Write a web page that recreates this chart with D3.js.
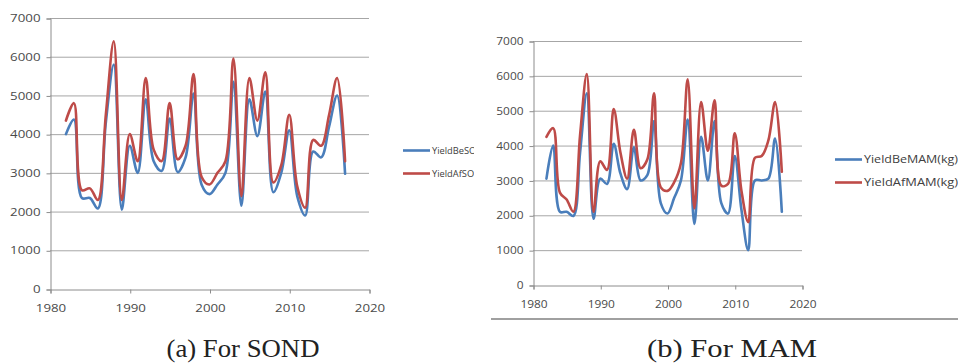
<!DOCTYPE html>
<html><head><meta charset="utf-8">
<script src="https://cdn.jsdelivr.net/npm/d3@7"></script>
<style>html,body{margin:0;padding:0;background:#fff;}svg{display:block;}</style>
</head><body>
<svg id="chart" width="958" height="363"></svg>
<script>
const years = d3.range(1982, 2018);
const yearTicks = [1980, 1990, 2000, 2010, 2020];
const valueTicks = [0, 1000, 2000, 3000, 4000, 5000, 6000, 7000];

const yieldBeSOND = [4000,4380,2350,2350,2080,4300,5800,2050,3700,3000,4900,3300,3050,4400,3020,3400,5050,2700,2450,2700,3000,5350,2150,4900,3950,5100,2500,3000,4100,2400,1900,3550,3400,4200,5000,2980];
const yieldAfSOND = [4350,4800,2550,2600,2300,4500,6400,2300,4000,3300,5450,3600,3300,4800,3350,3700,5550,2900,2700,3000,3300,5950,2400,5450,4350,5600,2750,3200,4500,2650,2100,3850,3700,4500,5450,3300];

const yieldBeMAM = [3050,4000,2100,2100,1980,3800,5500,1900,3050,2900,4050,3200,2750,3950,3000,3150,4700,2350,2050,2500,3000,4750,1750,4250,3000,4700,2350,2050,3700,2150,1000,3000,3000,3050,4200,2100];
const yieldAfMAM = [4250,4500,2650,2450,2100,4300,6050,2100,3550,3300,5050,3800,3050,4450,3350,3600,5500,2800,2700,2950,3500,5900,2200,5250,3850,5300,2850,2900,4350,2700,1800,3650,3700,4150,5250,3250];

const seriesNames = {
  sond: ["YieldBeSOND(kg)", "YieldAfSOND(kg)"],
  mam: ["YieldBeMAM(kg)", "YieldAfMAM(kg)"]
};
const captions = ["(a) For SOND", "(b) For MAM"];
const colors = ["#4a7ebb", "#be4b48"];

const svg = d3.select("#chart");
const defs = svg.append("defs");
defs.append("clipPath").attr("id","legclipA").append("rect")
  .attr("x",395).attr("y",130).attr("width",79).attr("height",60);

// frame line under right panel
svg.append("line").attr("x1",491).attr("x2",958).attr("y1",319).attr("y2",319)
  .attr("stroke","#a0a0a0").attr("stroke-width",2);

function panel(cfg){
  const x = d3.scaleLinear().domain([1980,2020]).range([cfg.x0, cfg.x1]);
  const y = d3.scaleLinear().domain([0,7000]).range([cfg.y0, cfg.y1]);
  const g = svg.append("g");
  // gridlines
  g.selectAll(".grid").data(valueTicks.slice(1)).join("line")
    .attr("x1",cfg.x0).attr("x2",cfg.x1)
    .attr("y1",d=>y(d)+0.5).attr("y2",d=>y(d)+0.5)
    .attr("stroke","#a6a6a6").attr("stroke-width",1);
  // y axis
  const ya = g.append("g").attr("transform",`translate(${cfg.x0+0.5},0.5)`)
    .call(d3.axisLeft(y).tickValues(valueTicks).tickFormat(d3.format("d")).tickSize(4).tickPadding(6));
  // x axis
  const xa = g.append("g").attr("transform",`translate(0.5,${cfg.y0+0.5})`)
    .call(d3.axisBottom(x).tickValues(yearTicks).tickFormat(d3.format("d")).tickSize(4).tickPadding(11));
  [ya, xa].forEach(a=>{
    a.select(".domain").attr("stroke","#8c8c8c");
    a.selectAll(".tick line").attr("stroke","#8c8c8c");
    a.selectAll(".tick text").attr("fill","#4a4a4a")
      .style("font-family","'Open Sans', sans-serif").style("font-size","10px")
      .attr("lengthAdjust","spacingAndGlyphs")
      .attr("textLength", d=> String(d).length*cfg.digitW);
  });
  xa.selectAll(".tick text").attr("dy","0.71em");
  // lines
  const line = d3.line().x((d,i)=>x(years[i])).y(d=>y(d)).curve(cfg.curve);
  [cfg.be, cfg.af].forEach((s,k)=>{
    g.append("path").datum(s).attr("d",line).attr("fill","none")
      .attr("stroke",colors[k]).attr("stroke-width",2.6)
      .attr("stroke-linejoin","round").attr("stroke-linecap","round");
  });
  // legend
  const lg = g.append("g");
  if (cfg.clip) lg.attr("clip-path",`url(#${cfg.clip})`);
  cfg.names.forEach((n,k)=>{
    const ly = cfg.legY[k];
    lg.append("line").attr("x1",cfg.legX).attr("x2",cfg.legX+27).attr("y1",ly).attr("y2",ly)
      .attr("stroke",colors[k]).attr("stroke-width",2.6);
    const t = lg.append("text").attr("x",cfg.legX+29).attr("y",ly).attr("dy","0.35em")
      .attr("fill","#404040").style("font-family","'Open Sans', sans-serif")
      .style("font-size",cfg.legFont+"px")
      .text(n);
    if (cfg.legW) t.attr("textLength", cfg.legW[k]).attr("lengthAdjust","spacingAndGlyphs");
  });
  // caption
  svg.append("text").attr("x",cfg.capX).attr("y",356.5).attr("text-anchor","middle")
    .style("font-family","'Liberation Serif', serif").style("font-size","25px")
    .attr("fill","#222").attr("textLength",cfg.capW).attr("lengthAdjust","spacingAndGlyphs")
    .text(cfg.caption);
}

panel({x0:50, x1:369, y0:289, y1:18, be:yieldBeSOND, af:yieldAfSOND,
  curve:d3.curveCatmullRom.alpha(0.5), names:seriesNames.sond,
  legX:403, legY:[150.5,173.5], legFont:9.3, legW:null, clip:"legclipA", digitW:7.6,
  caption:captions[0], capX:243, capW:153});
panel({x0:533, x1:802, y0:285, y1:41, be:yieldBeMAM, af:yieldAfMAM,
  curve:d3.curveCatmullRom.alpha(0.5), names:seriesNames.mam,
  legX:835, legY:[159.5,182.5], legFont:10.5, legW:[94,94], clip:null, digitW:6.8,
  caption:captions[1], capX:732, capW:170});
</script>
</body></html>
